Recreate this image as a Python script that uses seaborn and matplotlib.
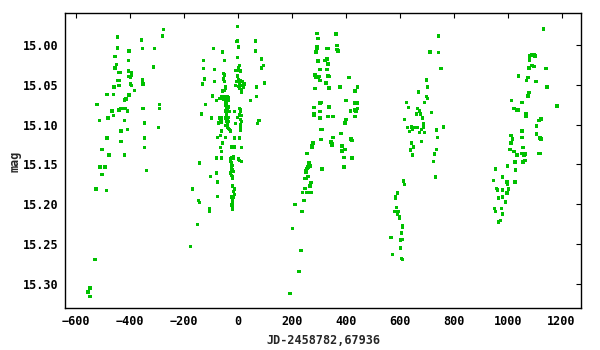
import numpy as np
import pandas as pd
import matplotlib
matplotlib.use("Agg")
import matplotlib.pyplot as plt
import seaborn as sns

# light curve points per observing season: (JD offset, magnitude)
season_1 = [(-549, 15.305), (-556, 15.310), (-549, 15.316), (-530, 15.269), (-527, 15.181),
            (-489, 15.183), (-523, 15.075), (-515, 15.095), (-504, 15.131), (-512, 15.153),
            (-493, 15.153), (-504, 15.163), (-478, 15.138), (-486, 15.117), (-486, 15.062),
            (-482, 15.092), (-467, 15.083), (-463, 15.089), (-463, 15.062), (-460, 15.053),
            (-456, 15.029), (-452, 15.025), (-456, 15.015), (-448, 15.004), (-448, 14.990),
            (-441, 15.035), (-437, 15.035), (-445, 15.045), (-441, 15.045), (-441, 15.051),
            (-422, 15.069), (-415, 15.068), (-441, 15.082), (-434, 15.080), (-419, 15.080),
            (-411, 15.083), (-422, 15.095), (-434, 15.108), (-411, 15.106), (-434, 15.121),
            (-422, 15.138), (-404, 15.063), (-407, 15.033), (-407, 15.020), (-404, 15.008),
            (-396, 15.035), (-396, 15.038), (-404, 15.040), (-400, 15.041), (-400, 15.049),
            (-396, 15.051), (-385, 15.057), (-359, 14.994), (-355, 15.005), (-355, 15.044),
            (-352, 15.049), (-352, 15.080), (-348, 15.098), (-348, 15.117), (-348, 15.129),
            (-340, 15.158), (-314, 15.028), (-311, 15.005), (-292, 15.075), (-292, 15.080),
            (-296, 15.104), (-281, 14.989), (-277, 14.981)]

season_2 = [(-176, 15.253), (-169, 15.181), (-150, 15.225), (-147, 15.195), (-143, 15.198),
            (-143, 15.148), (-136, 15.087), (-132, 15.049), (-128, 15.020), (-128, 15.030),
            (-124, 15.043), (-121, 15.075), (-106, 15.209), (-106, 15.206), (-102, 15.165),
            (-98, 15.092), (-95, 15.064), (-91, 15.005), (-87, 15.031), (-87, 15.046),
            (-80, 15.070), (-80, 15.142), (-80, 15.161), (-76, 15.172), (-76, 15.190),
            (-76, 15.116), (-72, 15.098), (-68, 15.092), (-65, 15.092), (-61, 15.092),
            (-65, 15.094), (-61, 15.097), (-65, 15.114), (-65, 15.129), (-61, 15.142),
            (-57, 15.009), (-61, 15.134), (-61, 15.108), (-57, 15.123), (-61, 15.065),
            (-65, 15.067), (-68, 15.067), (-57, 15.058), (-54, 15.036), (-50, 15.038),
            (-54, 15.043), (-50, 15.046), (-50, 15.020), (-46, 15.052), (-46, 15.054),
            (-50, 15.057), (-54, 15.065), (-46, 15.065), (-39, 15.065), (-54, 15.068),
            (-46, 15.068), (-39, 15.068), (-35, 15.066), (-35, 15.070), (-46, 15.072),
            (-42, 15.074), (-46, 15.076), (-42, 15.078), (-35, 15.078), (-46, 15.083),
            (-39, 15.083), (-31, 15.084), (-42, 15.087), (-42, 15.089), (-46, 15.092),
            (-35, 15.091), (-39, 15.094), (-42, 15.096), (-35, 15.096), (-39, 15.099),
            (-46, 15.101), (-39, 15.103), (-35, 15.105), (-31, 15.106), (-28, 15.108),
            (-46, 15.116), (-13, 15.084), (-9, 15.099), (-13, 15.117), (-24, 15.128),
            (-16, 15.128), (-13, 15.128), (-16, 15.140), (-16, 15.142), (-24, 15.141),
            (-28, 15.143), (-28, 15.146), (-24, 15.148), (-24, 15.151), (-20, 15.151),
            (-24, 15.155), (-20, 15.157), (-24, 15.159), (-16, 15.159), (-28, 15.161),
            (-24, 15.164), (-20, 15.166), (-20, 15.168), (-20, 15.177), (-13, 15.181),
            (-16, 15.184), (-13, 15.188), (-20, 15.190), (-24, 15.191), (-16, 15.191),
            (-20, 15.193), (-20, 15.196), (-24, 15.201), (-20, 15.201), (-20, 15.206),
            (-1.5, 14.977), (-5, 14.996), (-1.5, 14.995), (2, 15.003), (-1.5, 15.016),
            (5, 15.026), (2, 15.029), (-9, 15.032), (-1.5, 15.032), (10, 15.033),
            (-1.5, 15.039), (2, 15.044), (-5, 15.046), (10, 15.045), (17, 15.046),
            (-9, 15.051), (2, 15.052), (5, 15.048), (20, 15.049), (24, 15.049),
            (13, 15.051), (5, 15.055), (13, 15.056), (20, 15.053), (13, 15.059),
            (5, 15.080), (8, 15.081), (8, 15.084), (5, 15.088), (13, 15.089),
            (-1.5, 15.091), (8, 15.094), (13, 15.096), (8, 15.100), (8, 15.102),
            (8, 15.104), (8, 15.107), (5, 15.117), (13, 15.129), (2, 15.143),
            (5, 15.145), (13, 15.146), (47, 15.070), (69, 15.053), (69, 15.065),
            (65, 14.995), (65, 15.008), (88, 15.018), (88, 15.029), (95, 15.026),
            (99, 15.048), (77, 15.095), (73, 15.099)]

season_3 = [(192, 15.312), (226, 15.284), (233, 15.258), (203, 15.230), (211, 15.200),
            (237, 15.209), (244, 15.195), (240, 15.185), (255, 15.185), (270, 15.185),
            (248, 15.180), (270, 15.173), (267, 15.177), (248, 15.168), (252, 15.168),
            (259, 15.165), (252, 15.160), (252, 15.158), (255, 15.155), (259, 15.153),
            (263, 15.148), (267, 15.152), (255, 15.136), (274, 15.128), (274, 15.126),
            (278, 15.123), (311, 15.156), (308, 15.119), (308, 15.106), (311, 15.106),
            (282, 15.079), (282, 15.087), (282, 15.089), (304, 15.084), (304, 15.092),
            (304, 15.073), (308, 15.072), (285, 15.055), (285, 15.038), (289, 15.041),
            (300, 15.040), (304, 15.045), (296, 15.041), (304, 15.031), (296, 15.020),
            (296, 15.021), (289, 15.009), (293, 15.005), (293, 15.003), (296, 14.992),
            (293, 14.986), (322, 15.020), (330, 15.018), (334, 15.024), (330, 15.031),
            (334, 15.005), (330, 15.005), (334, 15.039), (337, 15.040), (326, 15.048),
            (337, 15.054), (337, 15.078), (334, 15.090), (352, 15.090), (352, 15.116),
            (345, 15.122), (349, 15.124), (349, 15.126), (364, 14.986), (364, 14.987),
            (367, 15.001), (367, 15.006), (371, 15.008), (378, 15.053), (382, 15.111),
            (386, 15.127), (386, 15.133), (393, 15.141), (393, 15.153), (397, 15.131),
            (397, 15.098), (401, 15.094), (401, 15.070), (412, 15.041), (416, 15.083),
            (419, 15.118), (423, 15.120), (423, 15.142), (431, 15.082), (434, 15.090),
            (438, 15.084), (442, 15.080), (431, 15.073), (438, 15.073), (442, 15.073),
            (434, 15.058), (442, 15.053)]

season_4 = [(744, 14.989), (710, 15.009), (714, 15.009), (744, 15.010), (751, 15.030),
            (755, 15.030), (699, 15.044), (702, 15.053), (669, 15.059), (699, 15.065),
            (702, 15.067), (691, 15.072), (624, 15.072), (632, 15.079), (665, 15.080),
            (672, 15.083), (676, 15.087), (661, 15.087), (717, 15.085), (684, 15.092),
            (617, 15.094), (687, 15.099), (687, 15.101), (687, 15.104), (628, 15.104),
            (643, 15.103), (647, 15.106), (654, 15.104), (635, 15.109), (665, 15.104),
            (672, 15.110), (691, 15.110), (680, 15.106), (762, 15.103), (736, 15.107),
            (740, 15.116), (680, 15.121), (643, 15.123), (650, 15.128), (639, 15.132),
            (647, 15.138), (736, 15.131), (728, 15.137), (725, 15.146), (732, 15.166),
            (613, 15.171), (617, 15.175), (591, 15.186), (583, 15.190), (583, 15.193),
            (587, 15.204), (580, 15.209), (594, 15.209), (591, 15.212), (598, 15.215),
            (598, 15.217), (609, 15.227), (609, 15.229), (606, 15.236), (609, 15.244),
            (602, 15.245), (568, 15.242), (602, 15.255), (572, 15.263), (606, 15.268),
            (609, 15.269)]

season_5 = [(1134, 14.980), (1082, 15.014), (1090, 15.013), (1097, 15.013), (1101, 15.014),
            (1082, 15.019), (1090, 15.026), (1097, 15.027), (1079, 15.029), (1142, 15.030),
            (1041, 15.039), (1075, 15.041), (1071, 15.045), (1105, 15.046), (1146, 15.053),
            (1079, 15.060), (1075, 15.064), (1015, 15.070), (1053, 15.072), (1183, 15.077),
            (1023, 15.080), (1034, 15.082), (1038, 15.082), (1068, 15.087), (1068, 15.090),
            (1123, 15.093), (1116, 15.095), (1108, 15.102), (1053, 15.108), (1108, 15.112),
            (1012, 15.114), (1053, 15.116), (1120, 15.117), (1123, 15.118), (1019, 15.118),
            (1012, 15.123), (1008, 15.131), (1057, 15.129), (1023, 15.134), (1053, 15.136),
            (1060, 15.136), (1064, 15.137), (1060, 15.138), (1116, 15.136), (1120, 15.136),
            (1034, 15.138), (1027, 15.147), (1064, 15.145), (1057, 15.147), (1000, 15.152),
            (956, 15.156), (1030, 15.157), (982, 15.166), (948, 15.170), (997, 15.172),
            (1000, 15.175), (1027, 15.172), (959, 15.180), (963, 15.182), (982, 15.182),
            (1004, 15.181), (997, 15.186), (982, 15.191), (967, 15.192), (993, 15.197),
            (952, 15.205), (956, 15.209), (978, 15.205), (982, 15.212), (974, 15.220),
            (967, 15.222)]

x_ticks = [-600, -400, -200, 0, 200, 400, 600, 800, 1000, 1200]
y_ticks = [15.00, 15.05, 15.10, 15.15, 15.20, 15.25, 15.30]

df = pd.DataFrame(season_1 + season_2 + season_3 + season_4 + season_5,
                  columns=["jd", "mag"])

sns.set_style("white")
plt.rcParams['font.family'] = ['DejaVu Sans Mono', 'DejaVu Sans']
plt.rcParams['font.weight'] = 'bold'

fig = plt.figure(figsize=(6, 3.5), dpi=100)
ax = fig.add_axes([0.1083, 0.119, 0.86, 0.843])

sns.scatterplot(data=df, x="jd", y="mag", ax=ax, marker="s", s=6,
                color="#00c000", linewidth=0, edgecolor="none")

ax.set_xlim(-642, 1272)
ax.set_ylim(15.3305, 14.9605)
ax.set_xticks(x_ticks)
ax.set_yticks(y_ticks)
ax.set_yticklabels([f"{v:.2f}" for v in y_ticks])
ax.tick_params(direction="in", top=True, right=True, length=3.5, width=0.8,
               labelsize=8.5, pad=5, colors="black")
for sp in ax.spines.values():
    sp.set_color("black")
    sp.set_linewidth(1.0)

ax.set_xlabel("JD-2458782,67936", fontsize=8.5, fontweight="bold", labelpad=4)
ax.set_ylabel("mag", fontsize=8.5, fontweight="bold", labelpad=1)

plt.savefig("out.png", dpi=100)
plt.close()
